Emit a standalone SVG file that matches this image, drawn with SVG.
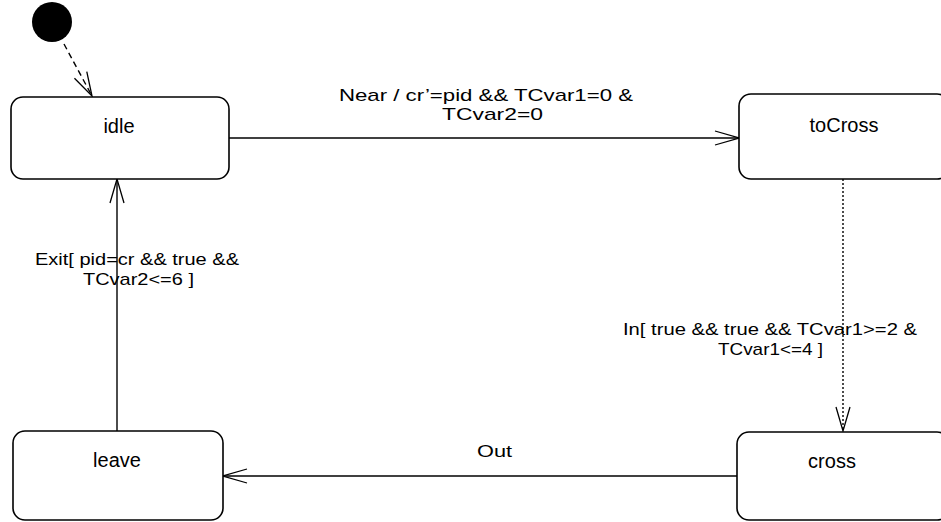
<svg xmlns="http://www.w3.org/2000/svg" width="941" height="522" viewBox="0 0 941 522">
<defs>
<style>
.state{fill:#fff;stroke:#000;stroke-width:1.6}
.lbl{font-family:"Liberation Sans",Arial,sans-serif;font-size:17px;fill:#000}
.name{font-family:"Liberation Sans",Arial,sans-serif;font-size:20px;fill:#000;text-anchor:middle}
.edge{fill:none;stroke:#000;stroke-width:1.4}
</style>
<marker id="open" viewBox="0 0 26 16" refX="25" refY="8" markerWidth="26" markerHeight="16" markerUnits="userSpaceOnUse" orient="auto">
<path d="M1,1 L25,8 L1,15" fill="none" stroke="#000" stroke-width="1.3"/>
</marker>
</defs>
<rect width="941" height="522" fill="#fff"/>
<g id="connectors">
<line class="edge" x1="64" y1="44" x2="92" y2="96" stroke-dasharray="6,4" marker-end="url(#open)"/>
<line class="edge" x1="229" y1="138" x2="739" y2="138" marker-end="url(#open)"/>
<line class="edge" x1="843" y1="179" x2="843" y2="431" stroke-dasharray="2,2" marker-end="url(#open)"/>
<line class="edge" x1="737" y1="476" x2="223" y2="476" marker-end="url(#open)"/>
<line class="edge" x1="117" y1="431" x2="117" y2="179" marker-end="url(#open)"/>
<text class="lbl" x="339" y="101" textLength="294" lengthAdjust="spacingAndGlyphs">Near / cr’=pid &amp;&amp; TCvar1=0 &amp;</text>
<text class="lbl" x="442" y="120" textLength="101" lengthAdjust="spacingAndGlyphs">TCvar2=0</text>
<text class="lbl" x="623" y="335" textLength="294" lengthAdjust="spacingAndGlyphs">In[ true &amp;&amp; true &amp;&amp; TCvar1&gt;=2 &amp;</text>
<text class="lbl" x="718" y="355" textLength="105" lengthAdjust="spacingAndGlyphs">TCvar1&lt;=4 ]</text>
<text class="lbl" x="477" y="457" textLength="35" lengthAdjust="spacingAndGlyphs">Out</text>
<text class="lbl" x="35" y="265" textLength="204" lengthAdjust="spacingAndGlyphs">Exit[ pid=cr &amp;&amp; true &amp;&amp;</text>
<text class="lbl" x="83" y="285" textLength="111" lengthAdjust="spacingAndGlyphs">TCvar2&lt;=6 ]</text>
</g>
<g id="initial">
<circle cx="52" cy="22" r="20" fill="#000"/>
</g>
<g id="idle">
<rect class="state" x="11" y="97" width="218" height="82" rx="12"/>
<text class="name" x="119" y="133">idle</text>
</g>
<g id="toCross">
<rect class="state" x="739" y="94" width="210" height="85" rx="12"/>
<text class="name" x="844" y="132">toCross</text>
</g>
<g id="cross">
<rect class="state" x="737" y="432" width="212" height="88" rx="12"/>
<text class="name" x="832" y="468">cross</text>
</g>
<g id="leave">
<rect class="state" x="13" y="431" width="210" height="89" rx="12"/>
<text class="name" x="117" y="467">leave</text>
</g>
</svg>
